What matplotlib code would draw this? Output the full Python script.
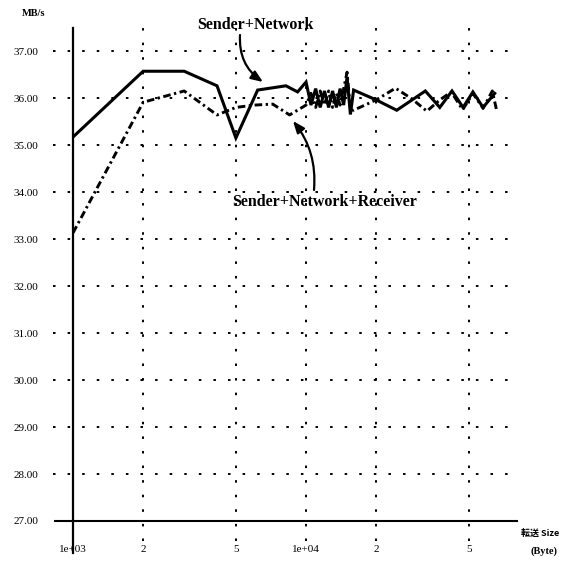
import matplotlib
matplotlib.use('Agg')
import matplotlib.pyplot as plt
import matplotlib.transforms as mtrans

# ---- data ----
x_sn = [1000, 2000, 3000, 4150, 5000, 6200, 8200, 9200, 10000, 10500, 11000, 11500,
        12000, 12500, 13000, 13500, 14000, 14500, 15000, 15500, 16000, 20000, 24500,
        32500, 37500, 42300, 47200, 52000, 57500, 64500]
y_sn = [35.17, 36.57, 36.57, 36.26, 35.15, 36.17, 36.26, 36.13, 36.34, 35.85, 36.20, 35.80,
        36.15, 35.80, 36.15, 35.80, 36.20, 35.85, 36.45, 35.65, 36.17, 35.96, 35.74,
        36.15, 35.80, 36.15, 35.80, 36.13, 35.80, 36.10]

x_snr = [1000, 2000, 3000, 4150, 5000, 6000, 7200, 8500, 10000, 10500, 11000, 11500,
         12000, 12500, 13000, 13500, 14000, 14500, 15000, 15500, 16000, 20000, 24200,
         28500, 33000, 37500, 42000, 47000, 52000, 57500, 63000, 66000]
y_snr = [33.13, 35.91, 36.15, 35.64, 35.80, 35.85, 35.87, 35.64, 35.85, 36.10, 35.80, 36.15,
         35.85, 36.15, 35.80, 36.10, 35.85, 36.20, 36.55, 35.75, 35.74, 35.96, 36.21,
         35.98, 35.72, 35.96, 36.13, 35.75, 36.10, 35.78, 36.15, 35.70]

xticks = [1e3, 2e3, 5e3, 1e4, 2e4, 5e4]
xticklabels = ['1e+03', '2', '5', '1e+04', '2', '5']
yticks = [27, 28, 29, 30, 31, 32, 33, 34, 35, 36, 37]

label_sn = 'Sender+Network'
label_snr = 'Sender+Network+Receiver'
ylabel = 'MB/s'

# ---- figure ----
W, H = 573, 563
fig = plt.figure(figsize=(W / 100, H / 100), dpi=100)
fig.patch.set_facecolor('white')
ax = fig.add_axes([73 / W, 1 - 521 / H, 444 / W, 493 / H])
ax.set_xscale('log')
ax.set_xlim(1e3, 80400)
ax.set_ylim(27, 37.49)
for s in ax.spines.values():
    s.set_visible(False)

serif = ['Liberation Serif', 'DejaVu Serif']

# grid (dotted, extending beyond axes)
blend_y = mtrans.blended_transform_factory(ax.transAxes, ax.transData)
blend_x = mtrans.blended_transform_factory(ax.transData, ax.transAxes)
dot = (0, (1.3, 6.2))
for yv in yticks[1:]:
    ax.plot([-0.045, 0.982], [yv, yv], transform=blend_y, color='black', lw=1.4,
            linestyle=dot, clip_on=False, zorder=1)
for xv in xticks[1:]:
    ax.plot([xv, xv], [-0.04, 1.0], transform=blend_x, color='black', lw=1.4,
            linestyle=dot, clip_on=False, zorder=1)

# axis lines (crossing)
ax.plot([-0.04, 1.0], [27, 27], transform=blend_y, color='black', lw=1.5,
        clip_on=False, zorder=3)
ax.plot([1e3, 1e3], [-0.065, 1.0], transform=blend_x, color='black', lw=1.6,
        clip_on=False, zorder=3)

# data
ax.plot(x_sn, y_sn, color='black', lw=2.2, solid_joinstyle='miter', zorder=4)
ax.plot(x_snr, y_snr, color='black', lw=2.1, dashes=(2.6, 1.2, 0.8, 1.2),
        dash_capstyle='butt', zorder=4)

# ticks
ax.set_xticks(xticks)
ax.set_xticklabels(xticklabels)
ax.minorticks_off()
ax.set_yticks(yticks)
ax.set_yticklabels([f'{v:.2f}' for v in yticks])
ax.tick_params(axis='both', length=0, labelsize=8)
ax.tick_params(axis='y', pad=25)
ax.tick_params(axis='x', pad=17)
for lab in ax.get_xticklabels() + ax.get_yticklabels():
    lab.set_family(serif)

# labels
fig.text(22 / W, 1 - 13 / H, ylabel, family=serif, fontsize=7.5, fontweight='bold',
         ha='left', va='center')
fig.text(540 / W, 1 - 533 / H, '転送 Size', family=['Noto Sans CJK JP', 'DejaVu Sans'],
         fontsize=6.5, fontweight='bold', ha='center', va='center')
fig.text(544 / W, 1 - 551 / H, '(Byte)', family=serif, fontsize=7.5, fontweight='bold',
         ha='center', va='center')

# annotations
fig.text(255 / W, 1 - 25 / H, label_sn, family=serif, fontsize=11.5, fontweight='bold',
         ha='center', va='center')
fig.text(325 / W, 1 - 202 / H, label_snr, family=serif, fontsize=11.5, fontweight='bold',
         ha='center', va='center')

arrow_kw = dict(arrowstyle='-|>,head_length=0.7,head_width=0.28', color='black', lw=1.6,
                shrinkA=0, shrinkB=0)
ax.annotate('', xy=(263, H - 82), xycoords='figure pixels',
            xytext=(240, H - 35), textcoords='figure pixels',
            arrowprops=dict(connectionstyle='arc3,rad=0.28', **arrow_kw))
ax.annotate('', xy=(293, H - 121), xycoords='figure pixels',
            xytext=(314, H - 190), textcoords='figure pixels',
            arrowprops=dict(connectionstyle='arc3,rad=0.2', **arrow_kw))

fig.savefig('out.png', dpi=100, facecolor='white')
